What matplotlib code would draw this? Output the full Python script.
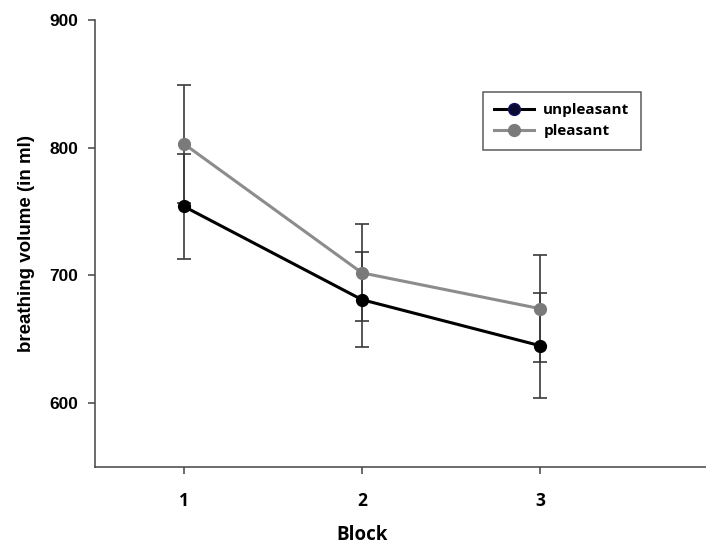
import matplotlib
matplotlib.use("Agg")
import matplotlib.pyplot as plt
from matplotlib.lines import Line2D

blocks = [1, 2, 3]
unpleasant = [754, 681, 645]
unpleasant_err = [41, 37, 41]
pleasant = [803, 702, 674]
pleasant_err = [46, 38, 42]
yticks = [600, 700, 800, 900]

fig = plt.figure(figsize=(7.06, 5.44), dpi=100)
W, H = 706, 544
ax = fig.add_axes([95 / W, (H - 467) / H, (706 - 95) / W, (467 - 20) / H])

ecol = '#3a3a3a'
ax.errorbar(blocks, pleasant, yerr=pleasant_err, fmt='none', ecolor=ecol,
            elinewidth=1.2, capsize=4.7, capthick=1.2, zorder=1)
ax.errorbar(blocks, unpleasant, yerr=unpleasant_err, fmt='none', ecolor=ecol,
            elinewidth=1.2, capsize=4.7, capthick=1.2, zorder=1)
ax.plot(blocks, unpleasant, color='black', lw=2.2, marker='o', ms=8.5,
        mfc='black', mec='black', zorder=3)
ax.plot(blocks, pleasant, color='#8c8c8c', lw=2.2, marker='o', ms=8.5,
        mfc='#7a7a7a', mec='#7a7a7a', zorder=2)

ax.set_xlim(0.5, 0.5 + 611 / 178)
ax.set_ylim(550, 900)
ax.set_yticks(yticks)
ax.set_xticks(blocks)
ax.set_yticklabels([str(v) for v in yticks], fontfamily='Liberation Sans',
                   fontweight='bold', fontsize=12.5)
ax.set_xticklabels([str(b) for b in blocks], fontfamily='Open Sans',
                   fontweight='bold', fontsize=12.5)
for s in ['top', 'right']:
    ax.spines[s].set_visible(False)
for s in ['left', 'bottom']:
    ax.spines[s].set_color('#444444')
    ax.spines[s].set_linewidth(1.1)
ax.tick_params(axis='both', direction='out', length=5, width=1.1, color='#444444')
ax.tick_params(axis='y', pad=7)
ax.tick_params(axis='x', pad=13)

ax.set_ylabel('breathing volume (in ml)', fontfamily='Liberation Sans',
              fontweight='bold', fontsize=13.5)
ax.yaxis.set_label_coords(-60 / 611, 0.5)
ax.set_xlabel('Block', fontfamily='Open Sans', fontweight='bold', fontsize=13.5)
ax.xaxis.set_label_coords((362 - 95) / 611, -58 / 447)

h1 = Line2D([], [], color='black', lw=2.2, marker='o', ms=8.5, mfc='#0a0a30', mec='#101060')
h2 = Line2D([], [], color='#8c8c8c', lw=2.2, marker='o', ms=8.5, mfc='#7a7a7a', mec='#7a7a7a')
leg = fig.legend([h1, h2], ['unpleasant', 'pleasant'], loc='upper left',
                 bbox_to_anchor=(483 / W, 1 - 92 / H), bbox_transform=fig.transFigure,
                 borderaxespad=0, fancybox=False, frameon=True, handlelength=2.6,
                 prop={'family': 'Open Sans', 'weight': 'bold', 'size': 11},
                 borderpad=0.75, labelspacing=0.45, handletextpad=0.6)
leg.get_frame().set_edgecolor('#333333')
leg.get_frame().set_linewidth(1.1)

fig.savefig('out.png', dpi=100)
